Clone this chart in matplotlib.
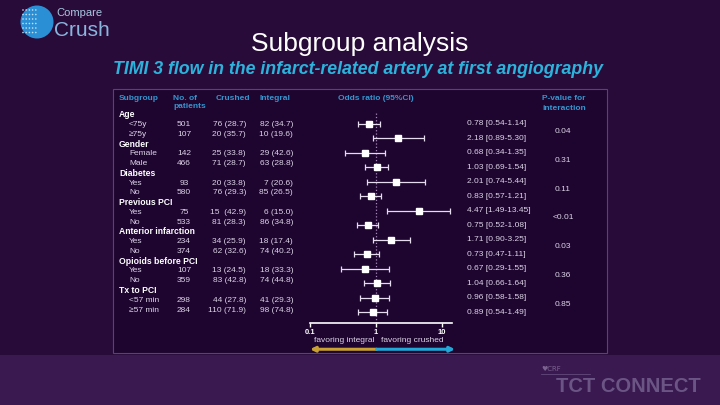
import numpy as np
import matplotlib
matplotlib.use("Agg")
import matplotlib.pyplot as plt
from matplotlib.patches import Rectangle, Ellipse
from matplotlib.transforms import blended_transform_factory

plt.rcParams['font.family'] = ['Liberation Sans', 'DejaVu Sans']

# Data
groups = ["Age", "Gender", "Diabetes", "Previous PCI", "Anterior infarction",
          "Opioids before PCI", "Tx to PCI"]
levels = [["<75y", "≥75y"], ["Female", "Male"], ["Yes", "No"], ["Yes", "No"],
          ["Yes", "No"], ["Yes", "No"], ["<57 min", "≥57 min"]]
n_patients = [501, 107, 142, 466, 93, 580, 75, 533, 234, 374, 107, 359, 298, 284]
crushed = ["76 (28.7)", "20 (35.7)", "25 (33.8)", "71 (28.7)", "20 (33.8)", "76 (29.3)",
           "15  (42.9)", "81 (28.3)", "34 (25.9)", "62 (32.6)", "13 (24.5)", "83 (42.8)",
           "44 (27.8)", "110 (71.9)"]
integral = ["82 (34.7)", "10 (19.6)", "29 (42.6)", "63 (28.8)", "7 (20.6)", "85 (26.5)",
            "6 (15.0)", "86 (34.8)", "18 (17.4)", "74 (40.2)", "18 (33.3)", "74 (44.8)",
            "41 (29.3)", "98 (74.8)"]
odds = [0.78, 2.18, 0.68, 1.03, 2.01, 0.83, 4.47, 0.75, 1.71, 0.73, 0.67, 1.04, 0.96, 0.89]
ci_low = [0.54, 0.89, 0.34, 0.69, 0.74, 0.57, 1.49, 0.52, 0.90, 0.47, 0.29, 0.66, 0.58, 0.54]
ci_high = [1.14, 5.30, 1.35, 1.54, 5.44, 1.21, 13.45, 1.08, 3.25, 1.11, 1.55, 1.64, 1.58, 1.49]
p_values = ["0.04", "0.31", "0.11", "<0.01", "0.03", "0.36", "0.85"]

W, H = 720, 405
def fx(x):
    return x / W
def fy(y):
    return 1 - y / H

bg = '#290b3a'
panel_bg = '#1d0530'
header_col = '#3596cf'
light = '#ddd3e6'

fig = plt.figure(figsize=(7.2, 4.05), dpi=100, facecolor=bg)

# backgrounds
fig.patches.append(Rectangle((0, 0), 1, fy(355), transform=fig.transFigure,
                             facecolor='#3a1850', edgecolor='none', zorder=-3))
fig.patches.append(Rectangle((fx(113), fy(353)), fx(607) - fx(113), fy(89) - fy(353),
                             transform=fig.transFigure, facecolor=panel_bg,
                             edgecolor='#5a4272', lw=0.8, zorder=-2))

# logo
fig.patches.append(Ellipse((fx(37), fy(22)), 33 / W, 33 / H, transform=fig.transFigure,
                           facecolor='#2b8fd6', edgecolor='none', zorder=-1))
for i in range(6):
    for j in range(5):
        fig.patches.append(Ellipse((fx(23 + j * 3.2), fy(10 + i * 4.5)), 1.6 / W, 1.6 / H,
                                   transform=fig.transFigure, facecolor='#bfe0f5',
                                   edgecolor='none', zorder=-1))
fig.text(fx(56), fy(13), "Compare", fontsize=8, color='#a9c6e0', va='center', ha='left')
fig.text(fx(54), fy(30), "Crush", fontsize=15, color='#8ab6de', va='center', ha='left')

# titles
fig.text(fx(360), fy(44), "Subgroup analysis", fontsize=19, color='white',
         ha='center', va='center')
fig.text(fx(358), fy(70), "TIMI 3 flow in the infarct-related artery at first angiography",
         fontsize=12.8, color='#2cb3dc', ha='center', va='center',
         fontweight='bold', fontstyle='italic')

# table headers
hs = dict(fontsize=6, color=header_col, fontweight='bold', va='center', ha='left')
fig.text(fx(119), fy(98), "Subgroup", **hs)
fig.text(fx(173), fy(98), "No. of", **hs)
fig.text(fx(173), fy(107), "patients", **hs)
fig.text(fx(216), fy(98), "Crushed", **hs)
fig.text(fx(260), fy(98), "Integral", **hs)
fig.text(fx(376), fy(98), "Odds ratio (95%CI)", **{**hs, 'ha': 'center'})
fig.text(fx(542), fy(98), "P-value for", **hs)
fig.text(fx(542), fy(108), "interaction", **hs)

# table body
row = 0
k = 0
for g, levs in zip(groups, levels):
    y = 115 + row * 9.75
    fig.text(fx(119), fy(y), g, fontsize=6.2, color='white', fontweight='bold', va='center')
    row += 1
    for lev in levs:
        y = 115 + row * 9.75
        fig.text(fx(129), fy(y), lev, fontsize=6, color=light, va='center')
        fig.text(fx(184), fy(y), str(n_patients[k]), fontsize=6, color=light,
                 va='center', ha='center')
        fig.text(fx(246), fy(y), crushed[k], fontsize=6, color=light, va='center', ha='right')
        fig.text(fx(293), fy(y), integral[k], fontsize=6, color=light, va='center', ha='right')
        row += 1
        k += 1

# forest plot
ax = fig.add_axes([fx(310), fy(323), fx(452) - fx(310), fy(113) - fy(323)])
ax.set_facecolor('none')
ypos = np.arange(len(odds))
ax.set_xscale('log')
ax.set_xlim(0.1, 10 ** (142 / 66 - 1))
ax.set_ylim(len(odds) - 0.24, -0.76)
ax.axvline(1, color='#a888b8', ls=':', lw=0.9, zorder=1)
err = [np.array(odds) - np.array(ci_low), np.array(ci_high) - np.array(odds)]
ax.errorbar(odds, ypos, xerr=err, fmt='s', color='#e6dcee', ecolor='#e6dcee',
            elinewidth=0.9, capsize=2.2, capthick=0.9, markersize=4.5,
            markerfacecolor='white', markeredgecolor='white', zorder=3)
for s in ['top', 'left', 'right']:
    ax.spines[s].set_visible(False)
ax.spines['bottom'].set_color('white')
ax.spines['bottom'].set_linewidth(1.2)
ax.set_yticks([])
ax.set_xticks([0.1, 1, 10])
ax.set_xticklabels(["0.1", "1", "10"])
ax.xaxis.set_minor_locator(matplotlib.ticker.NullLocator())
ax.tick_params(axis='x', colors='white', length=3, width=1, labelsize=5.5, pad=1.5)
for t in ax.get_xticklabels():
    t.set_fontweight('bold')

tr = ax.get_xaxis_transform()
ax.text(0.325, -0.085, "favoring integral", transform=tr, fontsize=6, color=light,
        ha='center', va='center')
ax.text(3.6, -0.085, "favoring crushed", transform=tr, fontsize=6, color=light,
        ha='center', va='center')
ax.annotate("", xy=(0.1, -0.125), xytext=(1.02, -0.125), xycoords=tr, textcoords=tr,
            arrowprops=dict(arrowstyle='-|>', color='#c9a032', lw=2.2, mutation_scale=7,
                            shrinkA=0, shrinkB=0), annotation_clip=False)
ax.annotate("", xy=(10 ** (145 / 66 - 1), -0.125), xytext=(1.02, -0.125), xycoords=tr,
            textcoords=tr,
            arrowprops=dict(arrowstyle='-|>', color='#22a8d6', lw=2.2, mutation_scale=7,
                            shrinkA=0, shrinkB=0), annotation_clip=False)

# OR text and p-values
btr = blended_transform_factory(fig.transFigure, ax.transData)
for i in range(len(odds)):
    ax.text(fx(467), ypos[i], f"{odds[i]:.2f} [{ci_low[i]:.2f}-{ci_high[i]:.2f}]",
            transform=btr, fontsize=6, color=light, va='center', ha='left', clip_on=False)
for j, p in enumerate(p_values):
    ax.text(fx(563), 2 * j + 0.5, p, transform=btr, fontsize=6, color=light,
            va='center', ha='center', clip_on=False)

# footer branding
fig.text(fx(541), fy(369), "♥CRF", fontsize=5, color='#7a6390', va='center', ha='left',
         family=['DejaVu Sans'])
fig.lines.append(plt.Line2D([fx(541), fx(590)], [fy(374), fy(374)],
                            transform=fig.transFigure, color='#6b5585', lw=0.5))
fig.text(fx(556), fy(386), "TCT CONNECT", fontsize=14.5, color='#6b5585',
         fontweight='bold', va='center', ha='left')

fig.savefig("out.png", dpi=100, facecolor=bg)
